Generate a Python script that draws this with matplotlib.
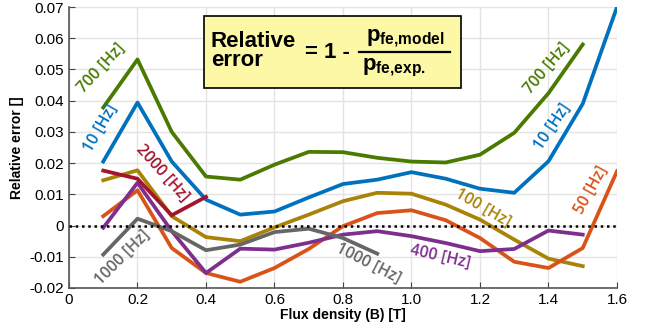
import matplotlib
matplotlib.use('Agg')
import matplotlib.pyplot as plt
from matplotlib.patches import Rectangle
from matplotlib.lines import Line2D
import numpy as np

plt.rcParams['font.family'] = ['Liberation Sans', 'DejaVu Sans']
plt.rcParams['mathtext.fontset'] = 'custom'
plt.rcParams['mathtext.bf'] = 'Liberation Sans:bold'
plt.rcParams['mathtext.rm'] = 'Liberation Sans:bold'

# flux density points
B = [0.1, 0.2, 0.3, 0.4, 0.5, 0.6, 0.7, 0.8, 0.9, 1.0, 1.1, 1.2, 1.3, 1.4, 1.5, 1.6]

# relative error per frequency
err_10 = [0.0205, 0.0394, 0.0205, 0.0083, 0.0035, 0.0045, 0.009, 0.0133, 0.0147,
          0.0171, 0.015, 0.0118, 0.0105, 0.0206, 0.039, 0.070]
err_50 = [0.003, 0.0113, -0.0072, -0.0152, -0.018, -0.0136, -0.0075, -0.0002, 0.004,
          0.0049, 0.0017, -0.004, -0.0116, -0.0136, -0.0072, 0.0174]
err_100 = [0.0145, 0.0177, 0.003, -0.0037, -0.005, -0.0006, 0.0035, 0.0078, 0.0105,
           0.0102, 0.0067, 0.0019, -0.0045, -0.0106, -0.013]
err_400 = [-0.0007, 0.0137, -0.0018, -0.0152, -0.0074, -0.0077, -0.0055, -0.0029, -0.0018,
           -0.0034, -0.0056, -0.0082, -0.0075, -0.0016, -0.0029]
err_700 = [0.0378, 0.0532, 0.030, 0.0157, 0.0147, 0.0195, 0.0236, 0.0235, 0.0217,
           0.0205, 0.0202, 0.0227, 0.0297, 0.0424, 0.058]
err_1000 = [-0.0093, 0.0022, -0.0018, -0.0079, -0.0061, -0.0021, -0.001, -0.004, -0.009]
err_2000 = [0.0176, 0.015, 0.0033, 0.0092]

c_10 = '#0072BD'
c_50 = '#D95319'
c_100 = '#A98307'
c_400 = '#7E2F8E'
c_700 = '#4A7A00'
c_1000 = '#666666'
c_2000 = '#A2142F'

fig = plt.figure(figsize=(6.46, 3.35), dpi=100)
ax = fig.add_axes([0.1068, 0.1403, 0.8483, 0.8388])

lw = 2.7
ax.plot(B[:len(err_700)], err_700, color=c_700, lw=lw)
ax.plot(B[:len(err_10)], err_10, color=c_10, lw=lw)
ax.plot(B[:len(err_100)], err_100, color=c_100, lw=lw)
ax.plot(B[:len(err_50)], err_50, color=c_50, lw=lw)
ax.plot(B[:len(err_400)], err_400, color=c_400, lw=lw)
ax.plot(B[:len(err_2000)], err_2000, color=c_2000, lw=lw)
ax.plot(B[:len(err_1000)], err_1000, color=c_1000, lw=lw)
ax.plot([0, 1.6], [0, 0], color='black', lw=1.8, ls=(0, (1, 1.5)), zorder=5)

ax.set_xlim(0, 1.6)
ax.set_ylim(-0.02, 0.07)
ax.set_xticks(np.arange(0, 1.61, 0.2))
ax.set_xticklabels(['0', '0.2', '0.4', '0.6', '0.8', '1.0', '1.2', '1.4', '1.6'])
ax.set_yticks(np.arange(-0.02, 0.071, 0.01))
ax.set_yticklabels(['-0.02', '-0.01', '0', '0.01', '0.02', '0.03', '0.04', '0.05', '0.06', '0.07'])
ax.tick_params(direction='in', length=4, labelsize=11, color='#444444')
ax.grid(True, color='#E3E3E3', lw=1)
ax.set_axisbelow(True)
for s in ['top', 'right']:
    ax.spines[s].set_visible(False)
for s in ['left', 'bottom']:
    ax.spines[s].set_color('#555555')
    ax.spines[s].set_linewidth(1.2)

ax.set_xlabel('Flux density (B) [T]', fontsize=10, fontweight='bold', labelpad=1)
ax.set_ylabel('Relative error []', fontsize=10, fontweight='bold', labelpad=4)

# curve labels
lab = dict(family=['Open Sans', 'DejaVu Sans'], fontsize=11.5, fontweight='semibold',
           ha='center', va='center')
ax.text(0.094, 0.0505, '700 [Hz]', color=c_700, rotation=47, **lab)
ax.text(0.092, 0.0312, '10 [Hz]', color=c_10, rotation=60, **lab)
ax.text(0.272, 0.0168, '2000 [Hz]', color=c_2000, rotation=-48, **lab)
ax.text(0.155, -0.0103, '1000 [Hz]', color=c_1000, rotation=45, **lab)
ax.text(0.874, -0.0122, '1000 [Hz]', color=c_1000, rotation=-27, **lab)
ax.text(1.085, -0.0098, '400 [Hz]', color=c_400, rotation=-13, **lab)
ax.text(1.209, 0.0057, '100 [Hz]', color=c_100, rotation=-30, **lab)
ax.text(1.395, 0.0505, '700 [Hz]', color=c_700, rotation=50, **lab)
ax.text(1.412, 0.0318, '10 [Hz]', color=c_10, rotation=56, **lab)
ax.text(1.523, 0.0115, '50 [Hz]', color=c_50, rotation=61, **lab)

# formula box (figure pixel coords -> fraction)
W, H = 646.0, 335.0
fig.patches.append(Rectangle((204 / W, 1 - 88 / H), (461 - 204) / W, (88 - 16) / H,
                             transform=fig.transFigure, facecolor='#FCF8A6',
                             edgecolor='black', lw=1.2, zorder=10))
bold = dict(fontsize=16, fontweight='bold', zorder=11)
fig.text(211 / W, 1 - 51 / H, 'Relative\nerror', ha='left', va='center',
         linespacing=0.9, **bold)
fig.text(305 / W, 1 - 52 / H, '= 1 -', ha='left', va='center', **bold)
fig.text(405 / W, 1 - 38 / H, r'$\mathbf{p_{fe{,}model}}$', ha='center', va='center',
         fontsize=16, zorder=11)
fig.text(394 / W, 1 - 68 / H, r'$\mathbf{p_{fe{,}exp.}}$', ha='center', va='center',
         fontsize=16, zorder=11)
fig.lines.append(Line2D([359 / W, 450 / W], [1 - 52 / H, 1 - 52 / H],
                        transform=fig.transFigure, color='black', lw=1.6, zorder=11))

fig.savefig('out.png', dpi=100)
